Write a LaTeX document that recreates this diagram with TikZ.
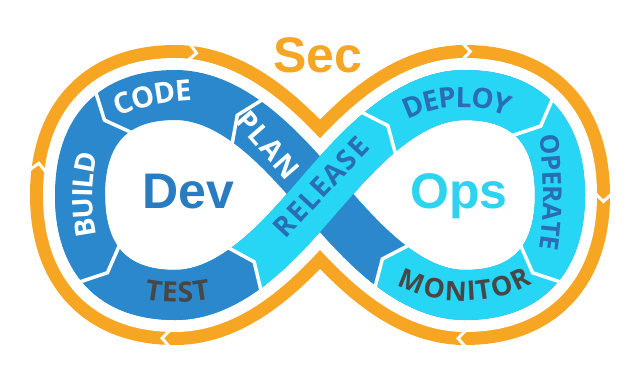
\documentclass[tikz,border=0pt]{standalone}
\usepackage{fontspec}
\usetikzlibrary{decorations.markings,decorations.text}
\newfontfamily\lblfont{Open Sans}
\newfontfamily\lblfontsp{Open Sans}[LetterSpace=5]
\newfontfamily\bigfont{Liberation Sans}
\definecolor{bandblue}{HTML}{2B88CC}
\definecolor{bandcyan}{HTML}{27D6F4}
\definecolor{ringorange}{HTML}{F6A623}
\definecolor{devblue}{HTML}{2A7CC0}
\definecolor{opscyan}{HTML}{2DD3EF}
\definecolor{lbldark}{HTML}{2A6DB5}
\definecolor{lblgray}{HTML}{474747}
% legs of the band centre line (each starts where the previous ends)
\def\LA{.. controls (285,154) and (235,95) .. (175,95)}
\def\LB{.. controls (113.25,95) and (80,130) .. (80,195)}
\def\LC{.. controls (80,260) and (113.25,295) .. (175,295)}
\def\LD{.. controls (235,295) and (285,234) .. (320,194)}
\def\LE{.. controls (355,154) and (405,95) .. (465,95)}
\def\LF{.. controls (526.75,95) and (560,130) .. (560,195)}
\def\LG{.. controls (560,260) and (526.75,295) .. (465,295)}
\def\LH{.. controls (405,295) and (355,234) .. (320,194)}
\def\LHcyc{.. controls (405,295) and (355,234) .. cycle}
\newcommand\sepmark{\draw[sepline] (-6pt,27pt) -- (6pt,0pt) -- (-6pt,-27pt);}
\newcommand\colfix[2]{%
  \fill[#1] (-1pt,13pt) -- (6pt,0pt) -- (-1pt,-13pt) -- cycle;
  \fill[#2] (0.8pt,12.5pt) -- (0.8pt,25pt) -- (-6pt,25pt) -- cycle;
  \fill[#2] (0.8pt,-12.5pt) -- (0.8pt,-25pt) -- (-6pt,-25pt) -- cycle;
  \draw[sepline] (-6pt,27pt) -- (6pt,0pt) -- (-6pt,-27pt);}
\newcommand\gapfwd{%
  \draw[gapline] (-4pt,35pt) -- (4pt,43.5pt) -- (-4pt,52pt);
  \draw[gapline] (-4pt,-35pt) -- (4pt,-43.5pt) -- (-4pt,-52pt);}
\newcommand\gapbwd{%
  \draw[gapline] (4pt,35pt) -- (-4pt,43.5pt) -- (4pt,52pt);
  \draw[gapline] (4pt,-35pt) -- (-4pt,-43.5pt) -- (4pt,-52pt);}
\tikzset{
  band/.style={line width=50pt, line cap=butt},
  sepline/.style={white, line width=3.5pt, line join=miter},
  gapline/.style={white, line width=3pt, line join=miter},
  lbl/.style={font=\lblfontsp\bfseries\fontsize{28}{28}\selectfont, inner sep=0pt},
  bigtxt/.style={font=\bigfont\bfseries\fontsize{50}{50}\selectfont, inner sep=0pt, anchor=base},
  mk/.style={decorate, decoration={markings, mark=#1}},
  curvelbl/.style n args={4}{decorate, decoration={text along path,
     text={|#4\bfseries\fontsize{#3}{#3}\selectfont|#1}, text align=center,
     text color=#2, raise=-10pt}}
}
\begin{document}
\begin{tikzpicture}[x=1pt,y=-1pt]
\useasboundingbox (0,0) rectangle (640,384);
\fill[white] (0,0) rectangle (640,384);
% orange outline ring
\draw[ringorange, line width=100pt] (320,194) \LA \LB \LC \LD \LE \LF \LG \LHcyc;
\draw[white, line width=74pt] (320,194) \LA \LB \LC \LD \LE \LF \LG \LHcyc;
\fill[white] (320,194) \LA \LB \LC \LD \LE \LF \LG \LHcyc;
% gaps in the orange ring
\path[mk={at position -12pt with {\gapbwd}}] (320,194) \LA;
\path[mk={at position -22pt with {\gapbwd}}] (175,95) \LB;
\path[mk={at position -7pt with {\gapbwd}}] (80,195) \LC;
\path[mk={at position 1pt with {\gapfwd}}] (465,95) \LF;
\path[mk={at position 2pt with {\gapfwd}}] (560,195) \LG;
\path[mk={at position 2pt with {\gapfwd}}] (465,295) \LH;
% bands
\draw[band, bandblue] (320,194) \LA \LB \LC \LD \LE \LF \LG \LHcyc;
\draw[band, bandcyan] (320,194) \LE \LF \LG \LH;
\draw[band, bandblue, dash pattern=on 400pt off 86pt, dash phase=400pt] (465,295) \LH;
\draw[band, bandcyan] (175,295) \LD \LE;
\draw[band, bandblue, dash pattern=on 239pt off 2000pt] (80,195) \LC \LD;
% segment separators
\path[mk={at position 0.6 with {\sepmark}}] (320,194) \LA;
\path[mk={at position 0.45 with {\sepmark}}] (175,95) \LB;
\path[mk={at position 0.5 with {\sepmark}}] (80,195) \LC;
\path[mk={at position 239pt with {\colfix{bandblue}{bandcyan}}}] (80,195) \LC \LD;
\path[mk={at position 0.5 with {\sepmark}}] (320,194) \LE;
\path[mk={at position 0.5 with {\sepmark}}] (465,95) \LF;
\path[mk={at position 0.5 with {\sepmark}}] (560,195) \LG;
\path[mk={at position 86pt with {\colfix{bandcyan}{bandblue}}}] (465,295) \LH;
% band labels
\path[curvelbl={CODE}{white}{29}{\lblfontsp}] (95,121) .. controls (120,98) and (170,88) .. (215,90);
\path[curvelbl={BUILD}{white}{28}{\lblfontsp}] (97,272) .. controls (77,220) and (77,170) .. (100,118);
\path[curvelbl={TEST}{lblgray}{28}{\lblfont}] (120,280) .. controls (150,296) and (205,296) .. (235,280);
\path[curvelbl={DEPLOY}{lbldark}{28}{\lblfontsp}] (378,132) .. controls (413,88) and (502,85) .. (537,127);
\path[curvelbl={OPERATE}{lbldark}{26}{\lblfontsp}] (543,108) .. controls (557,160) and (557,225) .. (543,277);
\path[curvelbl={MONITOR}{lblgray}{27}{\lblfont}] (373,256) .. controls (420,303) and (510,303) .. (554,253);
\node[lbl, text=white, rotate=-49] (plan) at (268,145) {PLAN};
\node[lbl, text=lbldark, rotate=47] (release) at (321,187) {RELEASE};
% big words
\node[bigtxt, text=devblue] (dev) at (188,208) {Dev};
\node[bigtxt, text=opscyan] (ops) at (459,208) {Ops};
\node[bigtxt, text=ringorange] (sec) at (318,72) {Sec};
\end{tikzpicture}
\end{document}
